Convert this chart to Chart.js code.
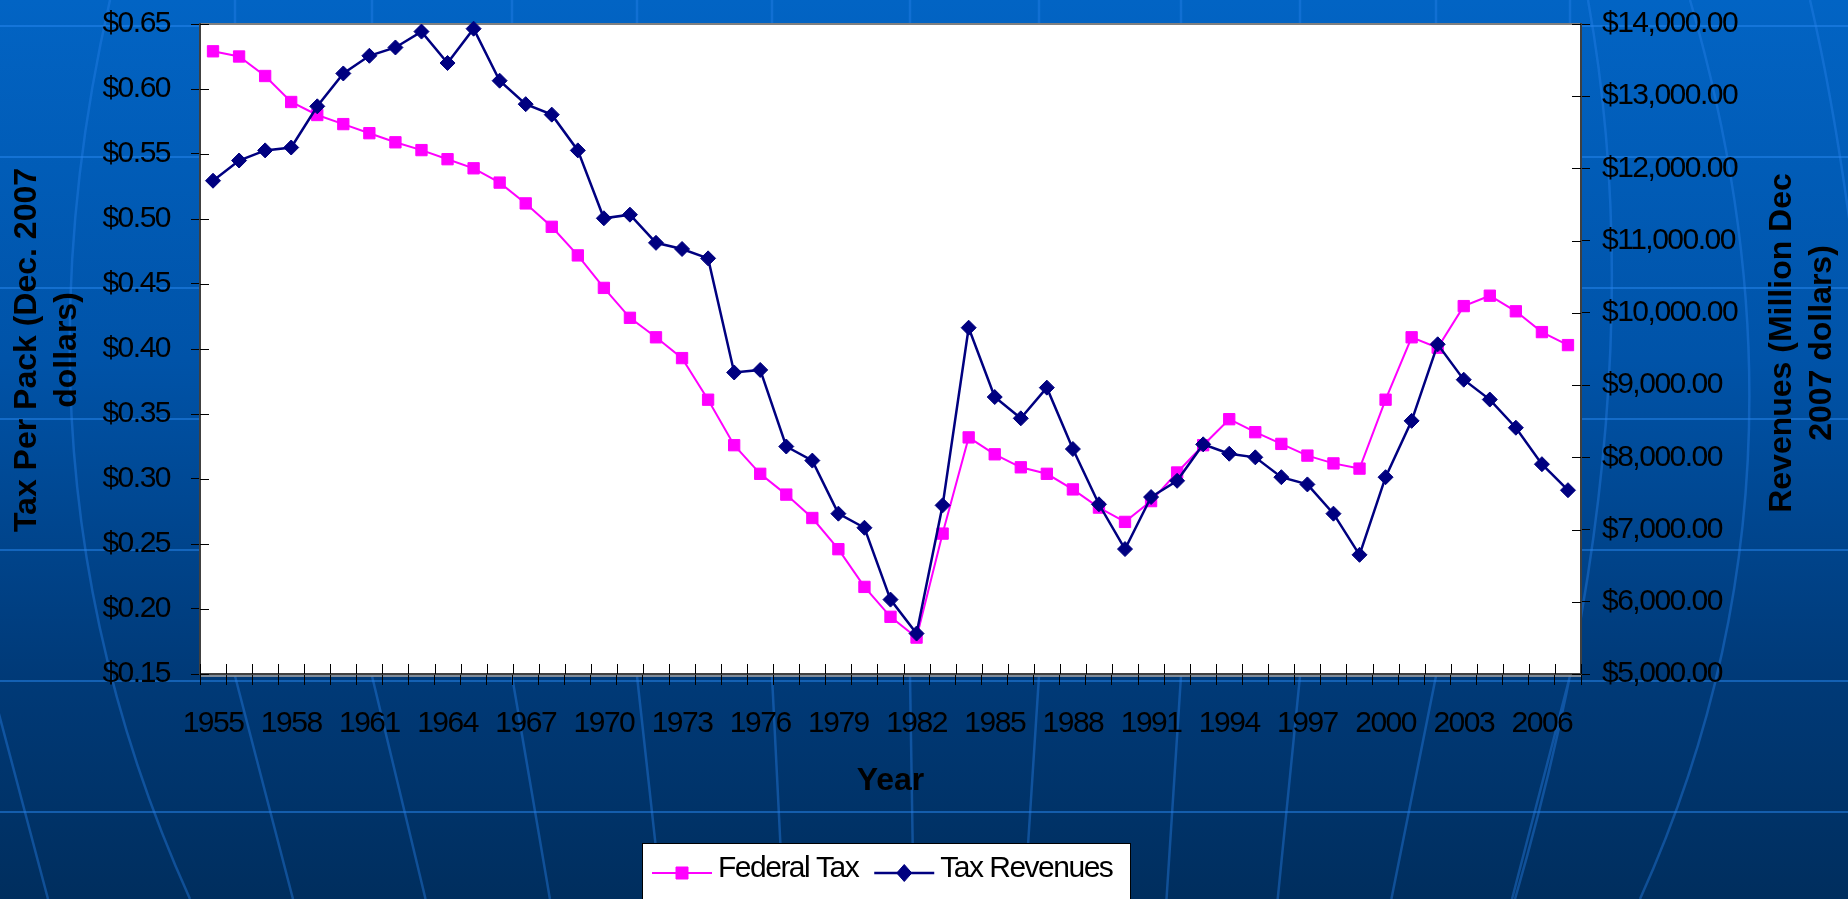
<!DOCTYPE html>
<html>
<head>
<meta charset="utf-8">
<title>Federal Tax and Tax Revenues</title>
<script src="https://cdn.jsdelivr.net/npm/chart.js@4.4.0/dist/chart.umd.min.js"></script>
<style>
  html, body { margin:0; padding:0; overflow:hidden; background:#003a78; }
  #wrap { width:1848px; height:899px; }
</style>
</head>
<body>
<div id="wrap"><canvas id="taxChart" width="1848" height="899"></canvas></div>
<script>
const years = ['1955','1956','1957','1958','1959','1960','1961','1962','1963','1964',
  '1965','1966','1967','1968','1969','1970','1971','1972','1973','1974',
  '1975','1976','1977','1978','1979','1980','1981','1982','1983','1984',
  '1985','1986','1987','1988','1989','1990','1991','1992','1993','1994',
  '1995','1996','1997','1998','1999','2000','2001','2002','2003','2004',
  '2005','2006','2007'];
// tax per pack, Dec. 2007 dollars
const federalTax = [0.629,0.625,0.610,0.590,0.580,0.573,0.566,0.559,0.553,0.546,
  0.539,0.528,0.512,0.494,0.472,0.447,0.424,0.409,0.393,0.361,
  0.326,0.304,0.288,0.270,0.246,0.217,0.194,0.178,0.258,0.332,
  0.319,0.309,0.304,0.292,0.278,0.267,0.283,0.305,0.326,0.346,
  0.336,0.327,0.318,0.312,0.308,0.361,0.409,0.401,0.433,0.441,
  0.429,0.413,0.403];
// revenues, million Dec. 2007 dollars
const taxRevenues = [11830,12110,12250,12290,12860,13315,13560,13675,13895,13460,
  13935,13215,12890,12745,12250,11310,11360,10970,10885,10755,
  9175,9210,8150,7955,7220,7025,6030,5560,7335,9795,
  8835,8540,8965,8115,7350,6730,7450,7675,8180,8050,
  8000,7725,7625,7220,6650,7725,8505,9565,9075,8800,
  8410,7905,7545];
const leftTitle = ['Tax Per Pack (Dec. 2007', 'dollars)'];
const rightTitle = ['Revenues (Million Dec', '2007 dollars)'];
const xTitle = 'Year';

const FONT = "'Liberation Sans', Arial, sans-serif";
const TIGHT = '-1.5px';   // the slide text is a condensed Arial

function drawMarker(ctx, style, x, y, color){
  ctx.save();
  ctx.fillStyle = color; ctx.strokeStyle = color; ctx.lineWidth = 1;
  ctx.beginPath();
  if (style === 'rect') {
    ctx.rect(x - 6, y - 6, 12, 12);
  } else {
    ctx.moveTo(x, y - 8.5); ctx.lineTo(x + 7.5, y); ctx.lineTo(x, y + 8.5); ctx.lineTo(x - 7.5, y); ctx.closePath();
  }
  ctx.fill(); ctx.stroke();
  ctx.restore();
}

const slideBackground = {
  id: 'slideBackground',
  beforeDraw(chart){
    const {ctx, width, height, chartArea:a} = chart;
    ctx.save();
    const g = ctx.createLinearGradient(0, 0, 0, height);
    g.addColorStop(0, '#0264c4');
    g.addColorStop(0.4, '#0053a8');
    g.addColorStop(0.75, '#003a78');
    g.addColorStop(1, '#002e5e');
    ctx.fillStyle = g;
    ctx.fillRect(0, 0, width, height);
    // faint template lines of the slide
    ctx.strokeStyle = 'rgba(40,135,240,0.5)';
    ctx.lineWidth = 2;
    ctx.beginPath();
    [26, 157, 288, 419, 550, 681, 812].forEach(yy => { ctx.moveTo(0, yy); ctx.lineTo(width, yy); });
    ctx.stroke();
    ctx.strokeStyle = 'rgba(40,130,235,0.4)';
    ctx.lineWidth = 2.5;
    ctx.beginPath();
    [[235,.26],[372,.24],[512,.17],[637,.11],[772,.05],[910,.016],[1039,-.065],[1181,-.065],[1300,-.1],[1436,-.2],[1570,-.26]].forEach(([x0, s]) => {
      ctx.moveTo(x0, 676); ctx.lineTo(x0 + s * 223, 899);
      ctx.moveTo(x0, 0); ctx.lineTo(x0, 24);
    });
    ctx.moveTo(110, 0); ctx.quadraticCurveTo(0, 480, 190, 899);
    ctx.moveTo(-10, 680); ctx.lineTo(48, 899);
    ctx.moveTo(1588, 0); ctx.quadraticCurveTo(1660, 400, 1515, 899);
    ctx.moveTo(1690, 0); ctx.quadraticCurveTo(1830, 480, 1640, 899);
    ctx.moveTo(1810, 0); ctx.quadraticCurveTo(1880, 300, 1900, 899);
    ctx.stroke();
    // plot area, with the light shadow under the category axis
    ctx.fillStyle = 'rgba(160,160,160,0.8)';
    ctx.fillRect(a.left, a.bottom + 1, a.right - a.left, 2);
    ctx.fillStyle = '#fff';
    ctx.fillRect(a.left, a.top, a.right - a.left, a.bottom - a.top);
    ctx.strokeStyle = '#808080';
    ctx.lineWidth = 2;
    ctx.strokeRect(a.left, a.top, a.right - a.left, a.bottom - a.top);
    ctx.restore();
    ctx.letterSpacing = TIGHT;  // kept for the tick labels chart.js draws next
  }
};

// tick marks cross the axes, so draw the inner half here
const innerTicks = {
  id: 'innerTicks',
  afterDraw(chart){
    const {ctx, chartArea:a, scales:{x, y, y1}} = chart;
    ctx.save();
    ctx.strokeStyle = '#000';
    ctx.lineWidth = 1;
    ctx.beginPath();
    y.ticks.forEach(t => { const p = Math.round(y.getPixelForValue(t.value)) + 0.5; ctx.moveTo(a.left, p); ctx.lineTo(a.left + 9, p); });
    y1.ticks.forEach(t => { const p = Math.round(y1.getPixelForValue(t.value)) + 0.5; ctx.moveTo(a.right - 9, p); ctx.lineTo(a.right, p); });
    const w = x.getPixelForValue(1) - x.getPixelForValue(0);
    for (let i = 0; i <= years.length; i++) {
      const p = Math.round(x.getPixelForValue(i) - w / 2) + 0.5;
      ctx.moveTo(p, a.bottom); ctx.lineTo(p, a.bottom - 10);
    }
    ctx.stroke();
    ctx.restore();
  }
};

// axis titles: both vertical ones read bottom-to-top
const axisTitles = {
  id: 'axisTitles',
  afterDraw(chart){
    const {ctx, width, chartArea:a} = chart;
    const midY = (a.top + a.bottom) / 2;
    ctx.save();
    ctx.letterSpacing = '0px';
    ctx.font = `bold 32px ${FONT}`;
    ctx.fillStyle = '#000';
    ctx.textAlign = 'center';
    ctx.textBaseline = 'middle';
    ctx.fillText(xTitle, (a.left + a.right) / 2, 781);
    const vertical = (lines, x, y) => {
      ctx.save();
      ctx.translate(x, y);
      ctx.rotate(-Math.PI / 2);
      lines.forEach((line, i) => ctx.fillText(line, 0, i * 40));
      ctx.restore();
    };
    vertical(leftTitle, 27.5, midY + 1);
    vertical(rightTitle, width - 66, midY - 6);
    ctx.restore();
  }
};

const chartLegend = {
  id: 'chartLegend',
  afterDraw(chart){
    const {ctx} = chart;
    const bx = 642, by = 843, bw = 489, bh = 62;
    ctx.save();
    ctx.fillStyle = '#fff';
    ctx.fillRect(bx, by, bw, bh);
    ctx.strokeStyle = '#000';
    ctx.lineWidth = 1;
    ctx.strokeRect(bx + 0.5, by + 0.5, bw - 1, bh - 1);
    ctx.letterSpacing = TIGHT;
    ctx.font = `30px ${FONT}`;
    ctx.textBaseline = 'middle';
    let x = bx + 10;
    const cy = by + 30;
    chart.data.datasets.forEach(ds => {
      ctx.strokeStyle = ds.borderColor;
      ctx.lineWidth = ds.borderWidth;
      ctx.beginPath(); ctx.moveTo(x, cy); ctx.lineTo(x + 60, cy); ctx.stroke();
      drawMarker(ctx, ds.pointStyle, x + 30, cy, ds.borderColor);
      ctx.fillStyle = '#000';
      ctx.fillText(ds.label, x + 66, cy - 4);
      x += 66 + ctx.measureText(ds.label).width + 16;
    });
    ctx.restore();
  }
};

const tickFont = { family: FONT, size: 30 };
// keep the scales from pushing the plot area in
function noPad(s){ s.paddingTop = 0; s.paddingBottom = 0; s.paddingLeft = 0; s.paddingRight = 0; }

new Chart(document.getElementById('taxChart'), {
  type: 'line',
  data: {
    labels: years,
    datasets: [
      { label:'Federal Tax', data: federalTax, yAxisID:'y', order:1,
        borderColor:'#ff00ff', backgroundColor:'#ff00ff', borderWidth:2,
        pointStyle:'rect', pointRadius:8, pointHoverRadius:8, pointBorderWidth:1, tension:0, clip:false },
      { label:'Tax Revenues', data: taxRevenues, yAxisID:'y1', order:0,
        borderColor:'#000080', backgroundColor:'#000080', borderWidth:2.5,
        pointStyle:'rectRot', pointRadius:7.5, pointHoverRadius:7.5, pointBorderWidth:1, tension:0, clip:false }
    ]
  },
  options: {
    responsive: false,
    animation: false,
    devicePixelRatio: 1,
    events: [],
    layout: { padding: { top: 24, left: 0, right: 0, bottom: 0 } },
    plugins: { legend: { display: false }, tooltip: { enabled: false } },
    scales: {
      x: {
        offset: true,
        grid: { offset: true, drawOnChartArea: false, tickLength: 11, color: '#000' },
        border: { color: '#404040', width: 2 },
        ticks: {
          autoSkip: false, maxRotation: 0, minRotation: 0, padding: 21, color: '#000', font: tickFont,
          callback(v, i){ return i % 3 === 0 ? this.getLabelForValue(v) : ''; }
        },
        afterFit(s){ noPad(s); s.height = 225; }
      },
      y: {
        position: 'left', min: 0.15, max: 0.65,
        grid: { drawOnChartArea: false, tickLength: 9, color: '#000' },
        border: { color: '#404040', width: 2 },
        ticks: { stepSize: 0.05, padding: 21, color: '#000', font: tickFont, callback: v => '$' + v.toFixed(2) },
        afterFit(s){ noPad(s); s.width = 200; }
      },
      y1: {
        position: 'right', min: 5000, max: 14000,
        grid: { drawOnChartArea: false, tickLength: 9, color: '#000' },
        border: { color: '#404040', width: 2 },
        ticks: { stepSize: 1000, padding: 12, color: '#000', font: tickFont,
          callback: v => '$' + v.toLocaleString('en-US', { minimumFractionDigits: 2, maximumFractionDigits: 2 }) },
        afterFit(s){ noPad(s); s.width = 267; }
      }
    }
  },
  plugins: [slideBackground, innerTicks, axisTitles, chartLegend]
});
</script>
</body>
</html>
